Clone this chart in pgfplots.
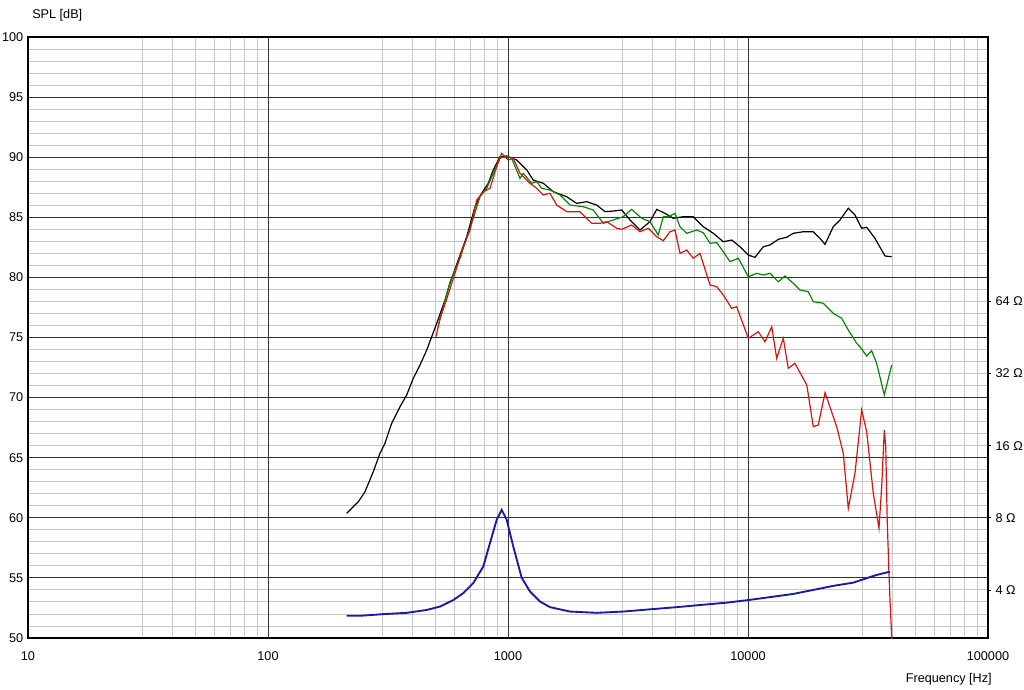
\documentclass[border=0pt]{standalone}
\usepackage{fontspec}
\setmainfont{Liberation Sans}
\usepackage{pgfplots}
\pgfplotsset{compat=1.18}
\definecolor{cred}{RGB}{215,20,20}
\definecolor{cgreen}{RGB}{10,130,10}
\definecolor{cblue}{RGB}{25,25,170}
\begin{document}
\begin{tikzpicture}
\path[use as bounding box] (0,0) rectangle (768pt,-516.75pt);
\begin{axis}[
  at={(21pt,-478.5pt)}, anchor=south west,
  scale only axis, width=720pt, height=450.75pt,
  xmode=log, xmin=10, xmax=100000, ymin=50, ymax=100,
  xtick={10,100,1000,10000,100000},
  xticklabels={10,100,1000,10000,100000},
  minor xtick={30,40,50,60,70,80,90,300,400,500,600,700,800,900,3000,4000,5000,6000,7000,8000,9000,30000,40000,50000,60000,70000,80000,90000},
  ytick={50,55,60,65,70,75,80,85,90,95,100},
  yticklabels={50,55,60,65,70,75,80,85,90,95,100},
  minor ytick={51,52,53,54,56,57,58,59,61,62,63,64,66,67,68,69,71,72,73,74,76,77,78,79,81,82,83,84,86,87,88,89,91,92,93,94,96,97,98,99},
  xminorgrids=true, xmajorgrids=false, yminorgrids=true, ymajorgrids=true,
  major grid style={black!80, line width=0.75pt},
  minor grid style={black!22, line width=0.7pt},
  major tick length=0pt, minor tick length=0pt,
  axis line style={black, line width=0.8pt},
  tick label style={font=\fontsize{9.5}{11}\selectfont},
  xticklabel style={yshift=-6.5pt},
  /pgf/number format/assume math mode=true,
]
\draw[black!80, line width=0.75pt] (axis cs:100,50) -- (axis cs:100,100);
\draw[black!80, line width=0.75pt] (axis cs:1000,50) -- (axis cs:1000,100);
\draw[black!80, line width=0.75pt] (axis cs:10000,50) -- (axis cs:10000,100);
\addplot[black, line width=0.9pt] coordinates {
(212.8,60.37) (237.9,61.34) (253.6,62.17) (274.7,63.84) (292.9,65.37) (307.3,66.2) (327.6,67.86) (354.8,69.24) (378.4,70.22) (402.9,71.6) (429.9,72.71) (458.6,73.96) (481,75.07) (504.6,76.18) (546.5,78.12) (573,79.51) (620.8,81.45) (672.9,83.39) (728.8,85.88) (776.6,87.0) (827.6,87.83) (868.3,88.94) (926.1,90.04) (987.5,90.1) (1087,89.77) (1197,88.94) (1274,88.1) (1403,87.83) (1544,87.13) (1757,86.71) (1933,86.16) (2128,86.3) (2342,86.02) (2536,85.47) (2747,85.52) (2977,85.61) (3224,84.78) (3548,83.94) (3905,84.64) (4166,85.66) (4510,85.33) (4883,84.92) (5375,85.05) (5916,85.05) (6512,84.22) (7167,83.67) (7888,82.97) (8551,83.11) (9261,82.55) (10030,81.86) (10700,81.67) (11580,82.55) (12350,82.7) (13380,83.17) (14490,83.34) (15440,83.67) (17000,83.8) (18710,83.8) (19950,83.25) (20940,82.75) (22660,84.22) (24170,84.78) (26180,85.75) (27910,85.19) (29760,84.09) (31230,84.17) (33820,83.25) (37230,81.78) (39700,81.72)
};
\addplot[cgreen, line width=0.9pt] coordinates {
(511,75.9) (573,79.6) (631,81.6) (716.6,84.9) (764,86.71) (815,87.41) (868,88.66) (926,89.91) (987.5,90.1) (1036,89.91) (1122,88.24) (1158,88.66) (1255,87.83) (1318,87.96) (1381,87.41) (1496,87.27) (1647,86.86) (1813,86.02) (2059,85.88) (2266,85.61) (2496,84.5) (2747,84.78) (3022,85.05) (3275,85.66) (3608,84.92) (3905,84.64) (4227,83.53) (4437,85.05) (4656,85.05) (4966,85.33) (5208,84.22) (5556,83.67) (6112,83.94) (6512,83.72) (6946,82.84) (7411,82.89) (7888,82.14) (8414,81.31) (9116,81.59) (10030,80.06) (10870,80.34) (11580,80.2) (12350,80.34) (13380,79.64) (14260,80.12) (15440,79.51) (16470,78.95) (17830,78.81) (18710,77.98) (20590,77.85) (22660,77.01) (24570,76.6) (26180,75.62) (28370,74.52) (29290,74.23) (31230,73.46) (32750,73.9) (34360,72.85) (36980,70.22) (39700,72.71)
};
\addplot[cred, line width=0.9pt] coordinates {
(501.2,75.07) (521.2,76.6) (555.5,78.2) (611.4,80.8) (651.3,82.55) (694.8,83.94) (741,86.44) (789,87.13) (841,87.41) (897,89.21) (941.5,90.32) (1003,89.77) (1052,89.91) (1122,88.66) (1235,87.83) (1318,87.41) (1403,86.86) (1496,87.0) (1596,86.02) (1757,85.47) (1995,85.47) (2232,84.5) (2417,84.5) (2578,84.64) (2838,84.09) (2977,84.0) (3275,84.36) (3548,83.8) (3843,84.09) (4166,83.39) (4437,83.05) (4732,83.8) (4966,83.94) (5208,82.0) (5556,82.28) (5916,81.59) (6310,82.0) (6946,79.37) (7411,79.23) (7888,78.54) (8551,77.43) (8972,77.56) (10030,74.93) (11040,75.48) (11770,74.65) (12560,75.9) (13170,73.27) (14030,74.93) (14720,72.44) (15690,72.85) (17580,71.05) (18710,67.58) (19630,67.72) (20940,70.41) (23420,67.58) (24950,65.37) (26180,60.79) (27910,63.7) (29760,68.97) (31230,67.16) (33270,62.04) (35140,59.13) (36070,62.59) (36980,67.3) (37490,65.92) (38030,59.82) (38680,55.38) (39050,53.16) (39700,50.1) (39800,40)
};
\end{axis}
\begin{axis}[
  at={(21pt,-478.5pt)}, anchor=south west,
  scale only axis, width=720pt, height=450.75pt,
  xmode=log, xmin=10, xmax=100000,
  ymode=log, log basis y=2, ymin=2.52, ymax=812.7,
  axis x line=none, axis y line*=right,
  axis line style={-, black, line width=0.8pt},
  ytick={4,8,16,32,64},
  yticklabels={4 Ω,8 Ω,16 Ω,32 Ω,64 Ω},
  minor ytick={},
  tick align=outside, major tick length=2.25pt,
  ytick style={black, line width=0.6pt},
  tick label style={font=\fontsize{9.5}{11}\selectfont},
]
\addplot[cblue, line width=1.4pt] coordinates {
(212.8,3.12) (242,3.12) (302.3,3.17) (378.4,3.21) (458.6,3.30) (521.2,3.41) (591.6,3.63) (651.3,3.88) (716.6,4.27) (789,5.01) (841,6.27) (897,7.85) (941.5,8.64) (987.5,7.85) (1052,6.07) (1140,4.5) (1235,3.94) (1359,3.58) (1496,3.39) (1813,3.25) (2342,3.21) (3022,3.25) (3905,3.32) (5047,3.39) (6310,3.46) (8147,3.54) (10030,3.63) (12740,3.75) (15440,3.85) (18710,4.0) (22660,4.16) (27460,4.29) (31230,4.48) (34360,4.62) (39050,4.77)
};
\end{axis}
\node[anchor=west, inner sep=0pt, font=\fontsize{9.5}{11}\selectfont] at (24pt,-11.25pt) {SPL [dB]};
\node[anchor=east, inner sep=0pt, font=\fontsize{9.5}{11}\selectfont] at (744pt,-509.25pt) {Frequency [Hz]};
\end{tikzpicture}
\end{document}
